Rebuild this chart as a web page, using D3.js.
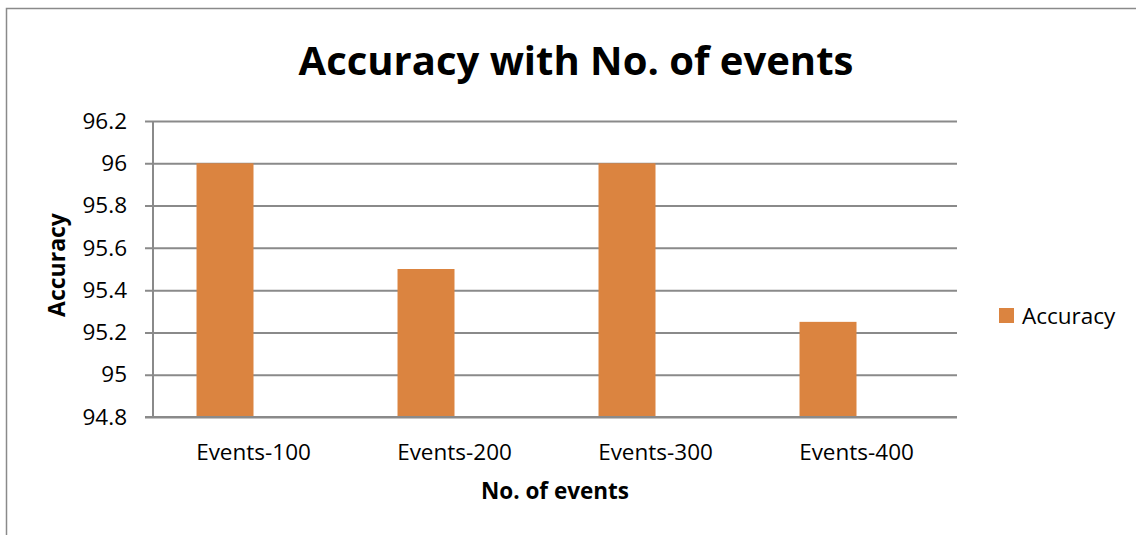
<!DOCTYPE html>
<html>
<head>
<meta charset="utf-8">
<script src="https://cdn.jsdelivr.net/npm/d3@7"></script>
<style>
  body { margin: 0; background: #fff; }
  svg { display: block; font-family: "Open Sans", sans-serif; }
</style>
</head>
<body>
<div id="bar_chart"></div>
<script>
const categories = ["Events-100", "Events-200", "Events-300", "Events-400"];
const accuracy = [96, 95.5, 96, 95.25];
const yTicks = [94.8, 95, 95.2, 95.4, 95.6, 95.8, 96, 96.2];
const seriesName = "Accuracy";

const width = 1136;
const height = 535;
const plot = { left: 153, right: 957, top: 121, bottom: 417 };
const gridColor = "#8a8a8a";
const barColor = "#db8440";

const svg = d3.select("#bar_chart")
    .append("svg")
    .attr("width", width)
    .attr("height", height);

// chart frame, runs off the right and bottom edge like the original
svg.append("rect")
    .attr("x", 6.5).attr("y", 8.5)
    .attr("width", width + 20).attr("height", height + 20)
    .attr("fill", "none")
    .attr("stroke", gridColor)
    .attr("stroke-width", 1.5);

const y = d3.scaleLinear()
    .domain([94.8, 96.2])
    .range([plot.bottom, plot.top]);

const x = d3.scaleBand()
    .domain(categories)
    .range([plot.left, plot.right])
    .paddingInner(0.433)
    .paddingOuter(0.2165);

// two slots per category, only the first one holds a bar
const slot = d3.scaleBand().domain([0, 1]).range([0, x.bandwidth()]);

/* ------- GRID + Y AXIS -------*/
const yAxis = svg.append("g")
    .attr("transform", `translate(${plot.left},0)`)
    .call(d3.axisLeft(y)
        .tickValues(yTicks)
        .tickSize(-(plot.right - plot.left))
        .tickPadding(26)
        .tickFormat(d => d3.format("")(+d.toFixed(1))));

yAxis.select(".domain").remove();
yAxis.selectAll(".tick line")
    .attr("x1", -8)
    .attr("stroke", gridColor)
    .attr("stroke-width", 2);
yAxis.selectAll(".tick text")
    .attr("fill", "#000")
    .style("font-size", "22.5px")
    .style("font-family", "'Open Sans', sans-serif");

/* ------- BARS -------*/
svg.append("g")
    .selectAll("rect")
    .data(accuracy)
    .join("rect")
    .attr("x", (d, i) => x(categories[i]) + slot(0))
    .attr("y", d => y(d))
    .attr("width", slot.bandwidth())
    .attr("height", d => y(94.8) - y(d))
    .attr("fill", barColor);

/* ------- AXIS LINES -------*/
svg.append("line")
    .attr("x1", plot.left).attr("x2", plot.left)
    .attr("y1", plot.top).attr("y2", plot.bottom)
    .attr("stroke", gridColor).attr("stroke-width", 2);

const xAxis = svg.append("g")
    .attr("transform", `translate(0,${plot.bottom})`)
    .call(d3.axisBottom(x).tickSize(0).tickPadding(27));

xAxis.select(".domain")
    .attr("d", `M${plot.left - 8},0H${plot.right}`)
    .attr("stroke", gridColor)
    .attr("stroke-width", 2);
xAxis.selectAll(".tick text")
    .attr("fill", "#000")
    .style("font-size", "22.5px")
    .style("font-family", "'Open Sans', sans-serif");

/* ------- TITLES -------*/
svg.append("text")
    .attr("x", 576).attr("y", 75)
    .attr("text-anchor", "middle")
    .style("font-size", "40px")
    .style("font-weight", "bold")
    .text("Accuracy with No. of events");

svg.append("text")
    .attr("x", 555).attr("y", 499)
    .attr("text-anchor", "middle")
    .style("font-size", "22.5px")
    .style("font-weight", "bold")
    .text("No. of events");

svg.append("text")
    .attr("transform", "translate(65,265) rotate(-90)")
    .attr("text-anchor", "middle")
    .style("font-size", "23px")
    .style("font-weight", "bold")
    .text("Accuracy");

/* ------- LEGEND -------*/
const legend = svg.append("g").attr("transform", "translate(999,308)");
legend.append("rect")
    .attr("width", 15).attr("height", 15)
    .attr("fill", barColor);
legend.append("text")
    .attr("x", 23).attr("y", 15.5)
    .style("font-size", "22.5px")
    .text(seriesName);
</script>
</body>
</html>
